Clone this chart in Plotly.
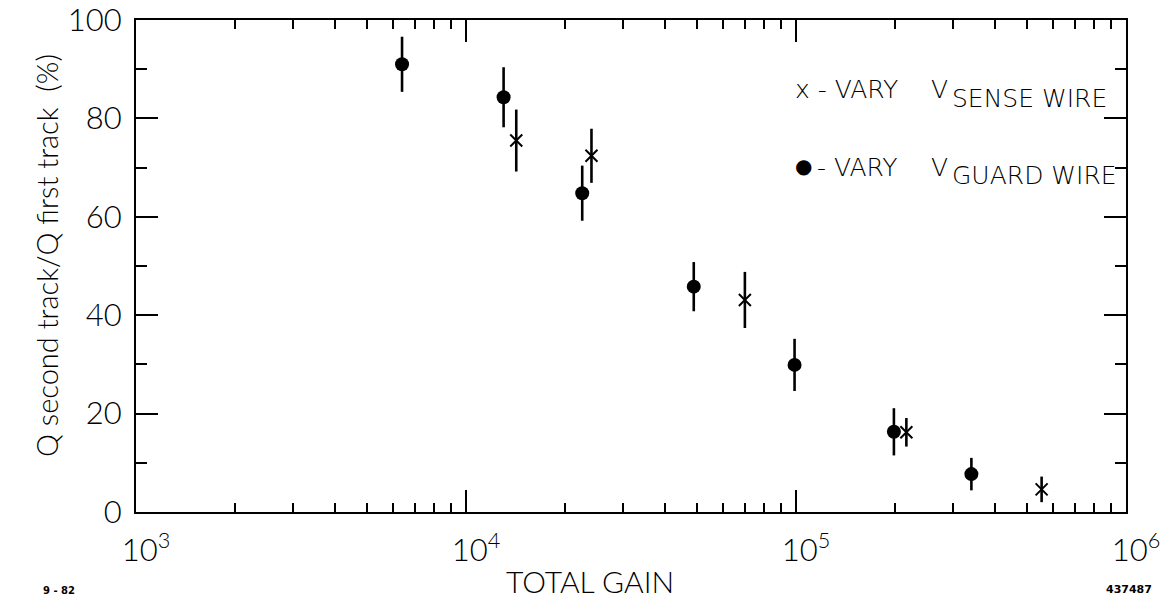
import plotly.graph_objects as go

# ---- data ----
guard_gain = [6400, 13000, 22500, 49000, 99000, 198000, 340000]
guard_ratio = [91.0, 84.3, 64.8, 45.8, 29.9, 16.3, 7.7]
guard_err = [5.6, 6.1, 5.6, 5.0, 5.3, 4.8, 3.3]

sense_gain = [14200, 24000, 70000, 216000, 555000]
sense_ratio = [75.5, 72.4, 43.1, 16.2, 4.6]
sense_err = [6.3, 5.5, 5.7, 2.9, 2.6]

x_major = [1e3, 1e4, 1e5, 1e6]
x_major_text = ["10<sup>3</sup>", "10<sup>4</sup>", "10<sup>5</sup>", "10<sup>6</sup>"]
x_minor = [m * 10 ** e for e in (3, 4, 5) for m in range(2, 10)]
y_major = [0, 20, 40, 60, 80, 100]
y_minor = [10, 30, 50, 70, 90]

FONT = "Lato"
WT = 300
W, H = 1161, 605
L, R, T, B = 136, 1126, 20, 512


def px(x):
    return (x - L) / (R - L)


def py(y):
    return (B - y) / (B - T)


fig = go.Figure()
fig.add_trace(go.Scatter(
    x=guard_gain, y=guard_ratio, mode="markers",
    marker=dict(symbol="circle", size=14, color="black"),
    error_y=dict(type="data", array=guard_err, visible=True, color="black",
                 thickness=2.6, width=0),
    showlegend=False,
))
fig.add_trace(go.Scatter(
    x=sense_gain, y=sense_ratio, mode="markers",
    marker=dict(symbol="x-thin", size=12, color="black",
                line=dict(width=2, color="black")),
    error_y=dict(type="data", array=sense_err, visible=True, color="black",
                 thickness=2.6, width=0),
    showlegend=False,
))

axis_common = dict(
    showline=True, linecolor="black", linewidth=2, mirror="allticks",
    ticks="inside", tickcolor="black", tickwidth=2, ticklen=22,
    showgrid=False, zeroline=False, automargin=False,
    ticklabeloverflow="allow",
    tickfont=dict(family=FONT, size=31, color="black", weight=WT),
)

fig.update_xaxes(
    type="log", range=[3, 6], tickvals=x_major, ticktext=x_major_text,
    minor=dict(tickvals=x_minor, ticks="inside", ticklen=9, tickwidth=2,
               tickcolor="black", showgrid=False),
    ticklabelstandoff=10, ticklabelshift=10,
    **axis_common,
)
fig.update_yaxes(
    range=[0, 100], tickvals=y_major, ticktext=[str(v) for v in y_major],
    minor=dict(tickvals=y_minor, ticks="inside", ticklen=11, tickwidth=2,
               tickcolor="black", showgrid=False),
    ticklabelstandoff=6,
    **axis_common,
)

ann = []
# axis titles
ann.append(dict(text="TOTAL GAIN", x=px(590), y=py(581), xref="paper", yref="paper",
                xanchor="center", yanchor="middle", showarrow=False,
                font=dict(family=FONT, size=30, color="black", weight=WT)))
ann.append(dict(text="Q second track/Q first track  (%)", x=px(47), y=py(256),
                xref="paper", yref="paper", textangle=-90,
                xanchor="center", yanchor="middle", showarrow=False,
                font=dict(family=FONT, size=29, color="black", weight=WT)))
# legend
leg_font = dict(family="DejaVu Sans", size=25, color="black", weight=200)
ann.append(dict(text="x - VARY", x=px(793), y=py(89), xref="paper", yref="paper",
                xanchor="left", yanchor="middle", showarrow=False, font=leg_font))
ann.append(dict(text="V", x=px(929), y=py(89), xref="paper", yref="paper",
                xanchor="left", yanchor="middle", showarrow=False, font=leg_font))
ann.append(dict(text="SENSE WIRE", x=px(950), y=py(99), xref="paper", yref="paper",
                xanchor="left", yanchor="middle", showarrow=False, font=leg_font))
ann.append(dict(text="\u25CF", x=px(803), y=py(166), xref="paper", yref="paper",
                xanchor="center", yanchor="middle", showarrow=False,
                font=dict(family="DejaVu Sans", size=20, color="black")))
ann.append(dict(text="- VARY", x=px(815), y=py(167), xref="paper", yref="paper",
                xanchor="left", yanchor="middle", showarrow=False, font=leg_font))
ann.append(dict(text="V", x=px(929), y=py(167), xref="paper", yref="paper",
                xanchor="left", yanchor="middle", showarrow=False, font=leg_font))
ann.append(dict(text="GUARD WIRE", x=px(950), y=py(176), xref="paper", yref="paper",
                xanchor="left", yanchor="middle", showarrow=False, font=leg_font))
# figure ids
ann.append(dict(text="<b>9 - 82</b>", x=px(41), y=py(590), xref="paper", yref="paper",
                xanchor="left", yanchor="middle", showarrow=False,
                font=dict(family="DejaVu Sans", size=10, color="black")))
ann.append(dict(text="<b>437487</b>", x=px(1154), y=py(589), xref="paper", yref="paper",
                xanchor="right", yanchor="middle", showarrow=False,
                font=dict(family="DejaVu Sans", size=11, color="black")))

fig.update_layout(
    width=W, height=H,
    margin=dict(l=L, r=W - R, t=T, b=H - B),
    paper_bgcolor="white", plot_bgcolor="white",
    annotations=ann,
    font=dict(family=FONT, color="black"),
)

fig.write_html("out.html")
